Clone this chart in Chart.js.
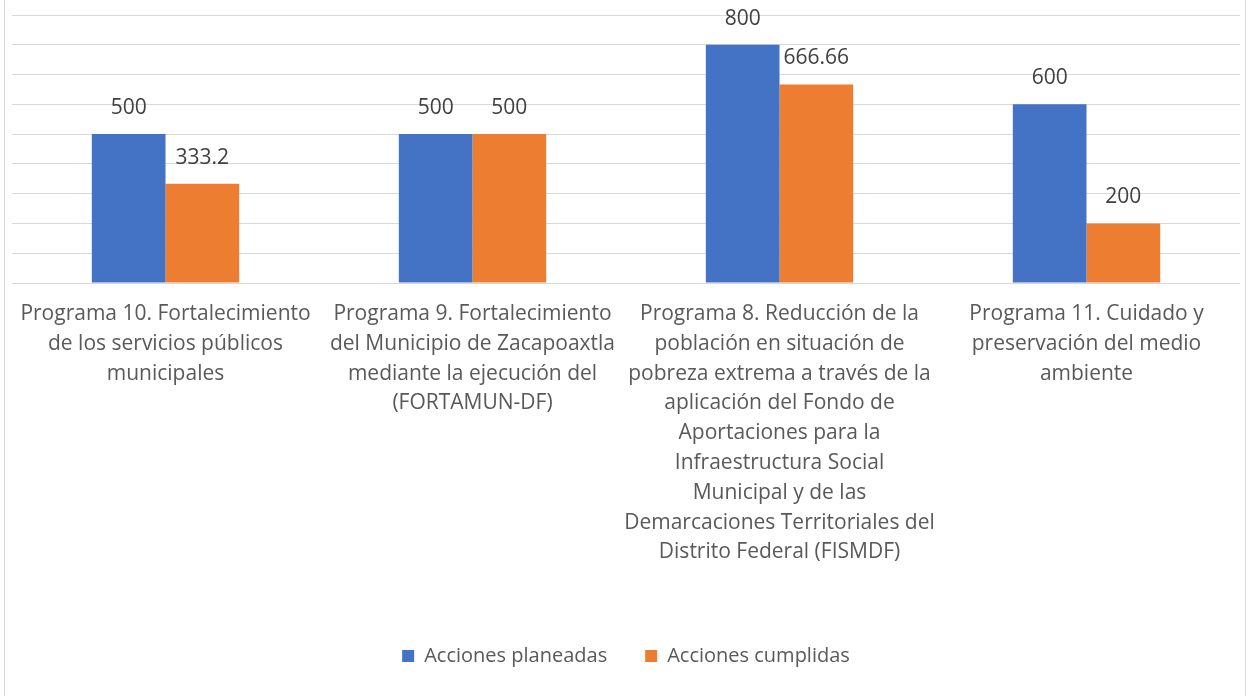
<!DOCTYPE html>
<html>
  <head>
    <meta charset="utf-8"/>
    <style>
      body { margin: 0; background: #fff; }
      #frame { position: absolute; left: 4px; top: 0; width: 1240px; height: 696px;
               border-left: 1px solid #d9d9d9; border-right: 1px solid #d9d9d9; }
      #canvas-holder { position: absolute; left: 0; top: 0; width: 1246px; height: 696px; }
    </style>
  </head>
  <body>
    <div id="frame"></div>
    <div id="canvas-holder">
        <canvas id="chart-area" width="1246" height="696"></canvas>
    </div>

    <script src="https://cdn.jsdelivr.net/npm/chart.js@4/dist/chart.umd.min.js"></script>
    <script>
        // programas (cada etiqueta partida en lineas)
        var categorias = [
            ["Programa 10. Fortalecimiento", "de los servicios públicos", "municipales"],
            ["Programa 9. Fortalecimiento", "del Municipio de Zacapoaxtla", "mediante la ejecución del", "(FORTAMUN-DF)"],
            ["Programa 8. Reducción de la", "población en situación de", "pobreza extrema a través de la", "aplicación del Fondo de",
             "Aportaciones para la", "Infraestructura Social", "Municipal y de las", "Demarcaciones Territoriales del",
             "Distrito Federal (FISMDF)"],
            ["Programa 11. Cuidado y", "preservación del medio", "ambiente"]
        ];
        var planeadas = [500, 500, 800, 600];
        var cumplidas = [333.2, 500, 666.66, 200];
        var seriesNames = ["Acciones planeadas", "Acciones cumplidas"];

        var fuente = "'Segoe UI', 'Open Sans', sans-serif";

        // etiquetas de valor encima de cada barra
        var valueLabels = {
            id: 'valueLabels',
            afterDatasetsDraw: function(chart) {
                var ctx = chart.ctx;
                ctx.save();
                ctx.font = '21px ' + fuente;
                ctx.fillStyle = '#404040';
                ctx.textAlign = 'center';
                ctx.textBaseline = 'middle';
                chart.data.datasets.forEach(function(ds, i) {
                    chart.getDatasetMeta(i).data.forEach(function(bar, j) {
                        ctx.fillText(String(ds.data[j]), bar.x, bar.y - 26);
                    });
                });
                ctx.restore();
            }
        };

        var ctx = document.getElementById('chart-area').getContext('2d');
        var chart = new Chart(ctx, {
            type: 'bar',
            data: {
                labels: categorias,
                datasets: [{
                    label: seriesNames[0],
                    data: planeadas,
                    backgroundColor: '#4472c4'
                }, {
                    label: seriesNames[1],
                    data: cumplidas,
                    backgroundColor: '#ed7d31'
                }]
            },
            options: {
                responsive: false,
                animation: false,
                layout: { padding: { top: 15, left: 12, right: 6, bottom: 20 } },
                categoryPercentage: 0.48,
                barPercentage: 1,
                scales: {
                    x: {
                        grid: { display: false },
                        border: { display: false },
                        ticks: {
                            color: '#595959',
                            font: { family: fuente, size: 21, lineHeight: 1.42 },
                            padding: 8,
                            maxRotation: 0,
                            autoSkip: false
                        },
                        afterFit: function(scale) { scale.height = 325; }
                    },
                    y: {
                        min: 0,
                        max: 900,
                        ticks: { display: false, stepSize: 100 },
                        border: { display: false },
                        grid: { color: '#d9d9d9', lineWidth: 1, drawTicks: false }
                    }
                },
                plugins: {
                    legend: {
                        position: 'bottom',
                        labels: {
                            boxWidth: 12,
                            boxHeight: 12,
                            padding: 38,
                            color: '#595959',
                            font: { family: fuente, size: 20 }
                        }
                    },
                    tooltip: { enabled: false }
                }
            },
            plugins: [valueLabels]
        });
    </script>
    </body>
</html>
